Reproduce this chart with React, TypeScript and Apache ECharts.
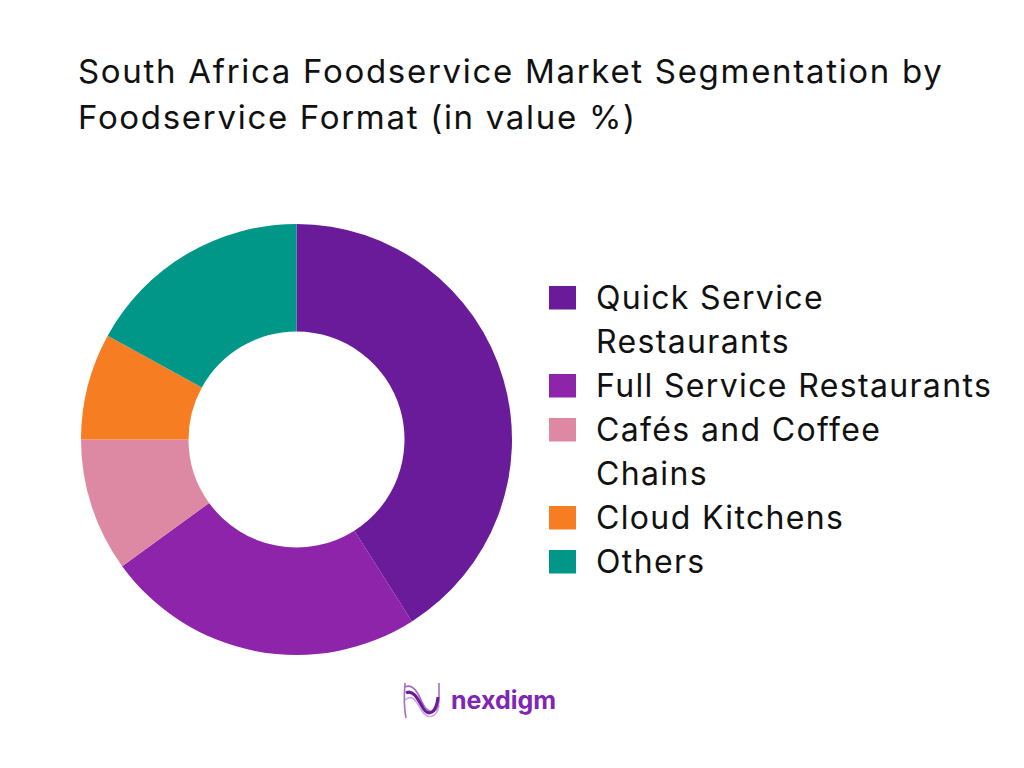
import React, { useEffect, useRef } from "react";
import * as echarts from "echarts";

const titleLines = [
  "South Africa Foodservice Market Segmentation by",
  "Foodservice Format (in value %)",
];
const categories = [
  "Quick Service Restaurants",
  "Full Service Restaurants",
  "Cafés and Coffee Chains",
  "Cloud Kitchens",
  "Others",
];
const legendLabels = [
  "Quick Service\nRestaurants",
  "Full Service Restaurants",
  "Cafés and Coffee\nChains",
  "Cloud Kitchens",
  "Others",
];
const shares = [41, 24, 10, 8, 17];
const colors = ["#6A1B9A", "#8E24AA", "#DE89A3", "#F67D22", "#009688"];
const brand = "nexdigm";

const FONT = "Inter";
const LINE = 44;

echarts.graphic.registerShape(
  "logoOuter",
  echarts.graphic.extendPath(
    "M1 0C0 12 0 25 2 35M1 4C9 0 14 10 18 19C23 30 33 34 35 18L35 0",
    {}
  )
);
echarts.graphic.registerShape(
  "logoInner",
  echarts.graphic.extendPath("M2 10C9 6 14 16 19 25C24 33 32 32 34 14", {})
);
echarts.graphic.registerShape(
  "logoLight",
  echarts.graphic.extendPath("M1 17C9 10 13 20 18 28C23 36 33 36 35 22", {})
);

export default function App() {
  const ref = useRef<HTMLDivElement>(null);
  useEffect(() => {
    const chart = echarts.init(ref.current!, undefined, { renderer: "svg" });
    let rowTop = 275;
    const legends = categories.map((name, i) => {
      const lines = legendLabels[i].split("\n").length;
      const h = lines * LINE;
      const top = rowTop;
      rowTop += h;
      return {
        show: true,
        data: [name],
        left: 549,
        top,
        padding: 0,
        orient: "vertical" as const,
        selectedMode: false,
        itemWidth: 27,
        itemHeight: h,
        icon: `path://M0 11H27V34.5H0ZM0 0L0 0M27 ${h}L27 ${h}`,
        formatter: () => legendLabels[i],
        textStyle: {
          fontFamily: FONT,
          fontSize: 32,
          lineHeight: LINE,
          color: "#111111",
          padding: [0, 0, 0, 15],
        },
      };
    });
    chart.setOption({
      animation: false,
      backgroundColor: "#FFFFFF",
      title: {
        text: titleLines.join("\n"),
        left: 78,
        top: 48,
        padding: 0,
        textStyle: {
          fontFamily: FONT,
          fontSize: 33,
          fontWeight: 400,
          lineHeight: 46,
          color: "#111111",
        },
      },
      legend: legends,
      series: [
        {
          type: "pie",
          center: [296.5, 439.5],
          radius: [108, 215.5],
          startAngle: 90,
          clockwise: true,
          label: { show: false },
          labelLine: { show: false },
          silent: true,
          data: categories.map((name, i) => ({
            name,
            value: shares[i],
            itemStyle: { color: colors[i] },
          })),
        },
      ],
      graphic: [
        {
          type: "logoLight",
          x: 404,
          y: 683,
          style: { fill: "none", stroke: "#C9A6DC", lineWidth: 1.6 },
        },
        {
          type: "logoOuter",
          x: 404,
          y: 683,
          style: { fill: "none", stroke: "#A66CC6", lineWidth: 1.6 },
        },
        {
          type: "logoInner",
          x: 404,
          y: 683,
          style: { fill: "none", stroke: "#6A1B9A", lineWidth: 3 },
        },
        {
          type: "text",
          x: 451,
          y: 700,
          style: {
            text: brand,
            fontFamily: "Inter",
            fontSize: 25,
            fontWeight: 700,
            verticalAlign: "middle",
            fill: "#8026B2",
          },
        },
      ],
    });
    return () => chart.dispose();
  }, []);
  return (
    <>
      <style>{`
        text[style*="33px"] { letter-spacing: 1.7px; }
        text[style*="32px"] { letter-spacing: 1.35px; }
      `}</style>
      <div
        ref={ref}
        style={{ position: "absolute", left: 0, top: 0, width: 1024, height: 768 }}
      />
    </>
  );
}
